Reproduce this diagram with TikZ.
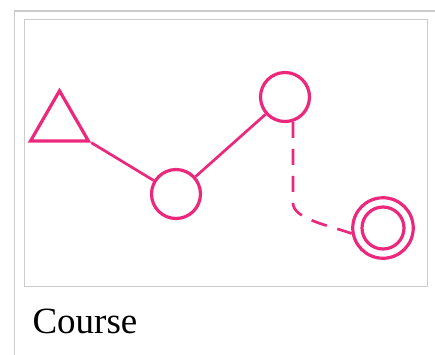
\documentclass[tikz,border=0pt]{standalone}
\usepackage{fontspec}
\setmainfont{Liberation Serif}
\usetikzlibrary{shapes.geometric}
\definecolor{coursepink}{RGB}{236,40,124}
\definecolor{framegray}{RGB}{204,204,204}

\begin{document}
\begin{tikzpicture}[
  x=1pt, y=-1pt,
  spot/.style={circle, draw=coursepink, line width=3.2pt, minimum size=49pt, inner sep=0pt},
  link/.style={draw=coursepink, line width=2.7pt},
  caption/.style={anchor=base west, font=\fontsize{37}{40}\selectfont}
]
\useasboundingbox (0,0) rectangle (435,354);
% thumbnail frames
\draw[framegray, line width=1.6pt] (437,11) -- (14.5,11) -- (14.5,356);
\node[draw=framegray, line width=1pt, minimum width=402.5pt, minimum height=267pt, inner sep=0pt] (pane) at (225.75,152.5) {};

% course marks
\node[regular polygon, regular polygon sides=3, draw=coursepink, line width=3.2pt,
      minimum size=67pt, inner sep=0pt] (start) at (59.5,124.3) {};
\node[spot] (low) at (176,194) {};
\node[spot] (high) at (285,97) {};
\node[spot, minimum size=60.5pt] (goal) at (383,228) {};
\node[spot, minimum size=42pt] (goalin) at (goal) {};
\coordinate (turn) at (293,203);

\draw[link] (start.corner 3) -- (low);
\draw[link] (low) -- (high);
\draw[link, dash pattern=on 16pt off 11pt] (high.-72) -- (turn)
  .. controls +(0,16) and +(-22,-8) .. (goal.190);

\node[caption] (label) at (29,333) {Course};
\end{tikzpicture}
\end{document}
